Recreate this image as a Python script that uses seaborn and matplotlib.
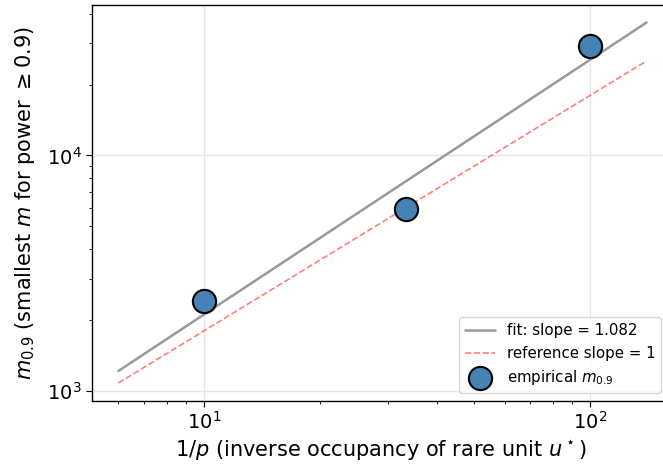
import numpy as np
import pandas as pd
import matplotlib
matplotlib.use("Agg")
import matplotlib.pyplot as plt
import seaborn as sns

# Empirical sample sizes needed for power >= 0.9 at each rare-unit occupancy
inv_p = [10.0, 100.0 / 3.0, 100.0]
m09 = [2400, 5950, 29300]

fit_slope = 1.082          # log-log fitted slope
ref_slope = 1.0            # reference slope
ref_coef = 180.0           # reference line prefactor
x_range = [6.0, 140.0]     # span of the drawn lines

sns.set_style("ticks")
plt.rcParams.update({
    "font.family": ["DejaVu Sans"],
    "text.color": "black",
    "axes.labelcolor": "black",
    "axes.edgecolor": "black",
    "xtick.color": "black",
    "ytick.color": "black",
})

fig, ax = plt.subplots(figsize=(6.63, 4.65), dpi=100)
fig.subplots_adjust(left=0.139, right=1.009, top=0.989, bottom=0.138)

# fitted line: slope fixed, intercept from the log-mean of the data
lx = np.log10(inv_p)
ly = np.log10(m09)
intercept = ly.mean() - fit_slope * lx.mean()
xs = np.geomspace(x_range[0], x_range[1], 50)
fit_df = pd.DataFrame({"x": xs, "y": 10 ** (intercept + fit_slope * np.log10(xs))})
ref_df = pd.DataFrame({"x": xs, "y": ref_coef * xs ** ref_slope})
pts = pd.DataFrame({"x": inv_p, "y": m09})

sns.lineplot(data=fit_df, x="x", y="y", ax=ax, color="#999999", lw=1.8,
             label=f"fit: slope = {fit_slope:.3f}", zorder=2)
sns.lineplot(data=ref_df, x="x", y="y", ax=ax, color="#ff7f7f", lw=1.2,
             linestyle="--", label="reference slope = 1", zorder=2)
sns.scatterplot(data=pts, x="x", y="y", ax=ax, s=280, color="#4682b4",
                edgecolor="black", linewidth=1.5, zorder=3,
                label="empirical $m_{0.9}$")

ax.set_xscale("log")
ax.set_yscale("log")
ax.set_xlim(5.13, 160)
ax.set_ylim(907, 43500)
ax.grid(True, which="major", color="#e6e6e6", lw=1)
ax.set_axisbelow(True)
for s in ax.spines.values():
    s.set_linewidth(1.0)

ax.tick_params(axis="both", which="major", labelsize=14, length=4)
ax.tick_params(axis="both", which="minor", length=2.5)
ax.set_xlabel("$1/p$ (inverse occupancy of rare unit $u^\\star$)", fontsize=15,
              labelpad=4)
ax.set_ylabel("$m_{0.9}$ (smallest $m$ for power $\\geq$0.9)", fontsize=15,
              labelpad=7)

ax.legend(loc="lower right", fontsize=10.8, frameon=True)

fig.savefig("out.png", dpi=100)
